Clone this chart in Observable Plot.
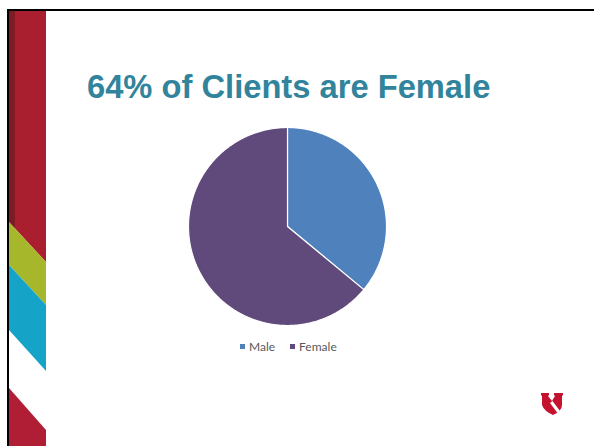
<!DOCTYPE html>
<html>
<head>
<meta charset="utf-8">
<script src="https://cdn.jsdelivr.net/npm/d3@7"></script>
<script src="https://cdn.jsdelivr.net/npm/@observablehq/plot@0.6"></script>
<style>
  html, body { margin: 0; padding: 0; background: #fff; }
  #slide { position: relative; width: 594px; height: 446px; overflow: hidden; background: #fff; }
  #deco { position: absolute; left: 0; top: 0; }
  #title { position: absolute; left: 87px; top: 68px; font-family: "Liberation Sans", Arial, sans-serif; font-weight: bold; font-size: 32.7px; color: #31849B; white-space: nowrap; }
  #chart { position: absolute; left: 187.4px; top: 125.8px; }
  #legend { position: absolute; left: 240px; top: 337px; font-family: Lato, "Open Sans", sans-serif; font-size: 12px; color: #595959; white-space: nowrap; }
  #legend span.item { display: inline-flex; align-items: center; margin-right: 15px; }
  #legend span.sw { display: inline-block; width: 5px; height: 5px; margin-right: 4px; }
  #logo { position: absolute; left: 540px; top: 392px; }
</style>
</head>
<body>
<div id="slide">
  <svg id="deco" width="594" height="446">
    <rect x="7" y="9" width="587" height="2" fill="#000"/>
    <polygon points="9,11 46,11 46,262 9,222" fill="#AA1F2F"/>
    <polygon points="9,11 15,11 15,228 9,222" fill="#7E1B25"/>
    <polygon points="9,222 46,262 46,305 9,265" fill="#A7B72C"/>
    <polygon points="9,265 46,305 46,371 9,330" fill="#15A3C8"/>
    <polygon points="9,388 46,430 46,446 9,446" fill="#B01E35"/>
    <rect x="7" y="9" width="2" height="437" fill="#000"/>
  </svg>
  <div id="title">64% of Clients are Female</div>
  <div id="chart"></div>
  <div id="legend"></div>
  <svg id="logo" width="25" height="24" viewBox="0 0 25 24">
    <path d="M1,1 L9,1 L9,3 L8,4 L12,9 L15,4 L14,3 L14,1 L23,1 L23,3 L22,4 L22,13 Q22,19 13,23 Q4,19 2,13 L2,4 L1,3 Z" fill="#C4122F"/>
    <polygon points="10,11 12.5,9 20,19 17.5,21" fill="#fff"/>
  </svg>
</div>
<script>
const categories = ["Male", "Female"];
const shares = [36, 64];
const colors = ["#4F81BD", "#604A7B"];

const pie = d3.pie().sort(null).value(d => d.value)(
  categories.map((name, i) => ({name, value: shares[i]}))
);

// slice outlines (center + arc) on a unit circle
const pts = [];
for (const s of pie) {
  const name = s.data.name;
  pts.push({name, x: 0, y: 0});
  const n = Math.max(2, Math.ceil((s.endAngle - s.startAngle) / (Math.PI / 360)));
  for (let k = 0; k <= n; k++) {
    const a = s.startAngle + (s.endAngle - s.startAngle) * k / n;
    pts.push({name, x: Math.sin(a), y: Math.cos(a)});
  }
}

const plot = Plot.plot({
  width: 200,
  height: 200,
  margin: 1,
  x: {domain: [-1, 1], axis: null},
  y: {domain: [-1, 1], axis: null},
  color: {domain: categories, range: colors},
  marks: [
    Plot.line(pts, {x: "x", y: "y", z: "name", fill: "name", stroke: "white", strokeWidth: 1.2, curve: "linear-closed"})
  ]
});
document.getElementById("chart").appendChild(plot);

const legend = document.getElementById("legend");
categories.forEach((c, i) => {
  const item = document.createElement("span");
  item.className = "item";
  const sw = document.createElement("span");
  sw.className = "sw";
  sw.style.background = colors[i];
  item.appendChild(sw);
  item.appendChild(document.createTextNode(c));
  legend.appendChild(item);
});
</script>
</body>
</html>
